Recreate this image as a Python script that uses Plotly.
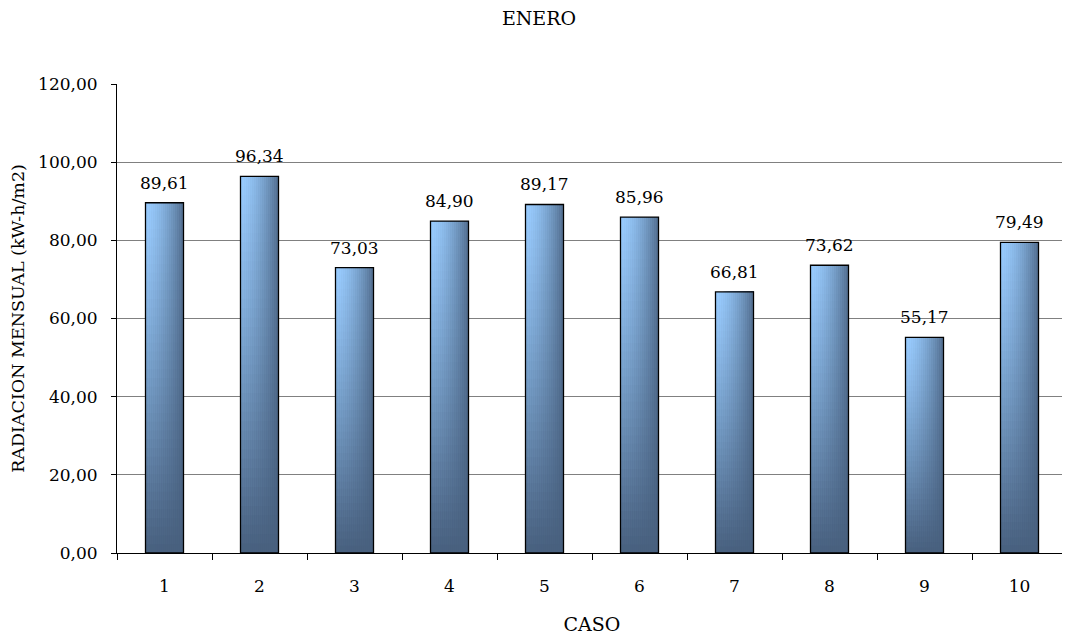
import plotly.graph_objects as go

categories = ["1", "2", "3", "4", "5", "6", "7", "8", "9", "10"]
values = [89.61, 96.34, 73.03, 84.90, 89.17, 85.96, 66.81, 73.62, 55.17, 79.49]
title_text = "ENERO"
x_title = "CASO"
y_title = "RADIACION MENSUAL (kW-h/m2)"

FONT = "DejaVu Serif"
LIGHT = (153, 204, 255)
DARK = (72, 96, 126)
BAR_W = 0.4
K = 19   # horizontal shading steps
N = 40   # vertical shading steps

# the page body has an 8px margin; size the figure to the visible window
W, H = 1070 - 8, 639 - 8


def shade(v, h):
    tv = v ** 1.25
    s = 0.85 * h ** 1.6
    t = tv + (1 - tv) * s
    t = min(max(t, 0), 1)
    c = [round(LIGHT[j] + (DARK[j] - LIGHT[j]) * t) for j in range(3)]
    return f"rgb({c[0]},{c[1]},{c[2]})"


fig = go.Figure()

sw = BAR_W / K
for k in range(K):
    h = (k + 0.5) / K
    xs, bases, ys, cols = [], [], [], []
    for i in range(N):
        v_from_top = 1 - (i + 0.5) / N
        for c, val in zip(categories, values):
            b = val * i / N
            xs.append(c)
            bases.append(b)
            ys.append(val - b)
            cols.append(shade(v_from_top, h))
    fig.add_trace(go.Bar(
        x=xs, y=ys, base=bases,
        width=BAR_W - k * sw, offset=-BAR_W / 2 + k * sw,
        marker=dict(color=cols, line=dict(width=0)),
        hoverinfo="skip", showlegend=False,
    ))

# outline
fig.add_trace(go.Bar(
    x=categories, y=values, width=BAR_W, offset=-BAR_W / 2,
    marker=dict(color="rgba(0,0,0,0)", line=dict(color="black", width=1.3)),
    showlegend=False,
))

annotations = [
    dict(x=idx, y=v, xref="x", yref="y", text=f"{v:.2f}".replace(".", ","),
         showarrow=False, yanchor="bottom", yshift=8,
         font=dict(family=FONT, size=17, color="black"))
    for idx, v in enumerate(values)
]

fig.update_layout(
    width=W, height=H,
    margin=dict(l=109, r=3, t=76, b=86),
    barmode="overlay",
    plot_bgcolor="white", paper_bgcolor="white",
    separators=",.",
    font=dict(family=FONT, size=17, color="black"),
    title=dict(text=title_text, x=0.5, xanchor="center", y=1 - 10 / H, yanchor="middle",
               font=dict(family=FONT, size=19, color="black")),
    xaxis=dict(
        type="category", tickson="boundaries", ticks="outside", ticklen=6,
        tickcolor="black", showline=True, linecolor="black", linewidth=1,
        showgrid=False, ticklabelstandoff=18,
        title=dict(text=x_title, standoff=22, font=dict(family=FONT, size=19)),
        range=[-0.5, 9.5],
    ),
    yaxis=dict(
        range=[0, 120], dtick=20, tickformat=".2f",
        ticks="outside", ticklen=5, tickcolor="black",
        showline=True, linecolor="black", linewidth=1,
        showgrid=True, gridcolor="#808080", gridwidth=1,
        zeroline=False, ticklabelstandoff=10,
        title=dict(text=y_title, standoff=10, font=dict(family=FONT, size=17.5)),
    ),
    annotations=annotations,
    shapes=[dict(type="line", xref="paper", yref="paper", x0=1, x1=1, y0=-0.013, y1=1,
                 line=dict(color="#a8a8a8", width=1))],
)

fig.write_html("out.html")
